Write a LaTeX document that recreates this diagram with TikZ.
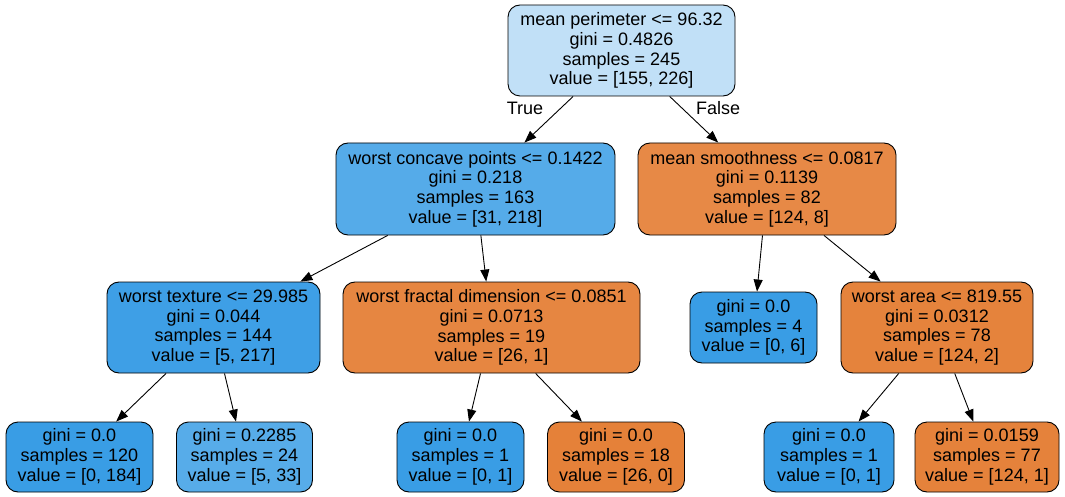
\documentclass[tikz,border=0pt]{standalone}
\usepackage{fontspec}
\setmainfont{Liberation Sans}
\usetikzlibrary{arrows.meta}
\definecolor{cRoot}{RGB}{193,224,247}
\definecolor{cL}{RGB}{85,171,233}
\definecolor{cT}{RGB}{62,159,230}
\definecolor{cBlue}{RGB}{57,157,229}
\definecolor{cLb}{RGB}{87,172,233}
\definecolor{cR}{RGB}{231,137,70}
\definecolor{cF}{RGB}{230,134,65}
\definecolor{cOr}{RGB}{229,129,57}
\definecolor{cA}{RGB}{229,131,60}
\definecolor{cA2}{RGB}{229,130,59}
\begin{document}
\begin{tikzpicture}[x=1pt,y=-1pt,
  box/.style={draw=black, line width=0.9pt, rounded corners=12pt, align=center, inner sep=0pt, font=\fontsize{18}{19.7}\selectfont},
  edge/.style={-{Triangle[length=12pt,width=9pt]}, line width=0.9pt},
  lbl/.style={font=\fontsize{18}{19.7}\selectfont, inner sep=0pt}]
\useasboundingbox (0,0) rectangle (1065,497);
\node[box, fill=cRoot, minimum width=227pt, minimum height=91pt] (root) at (621.5,50.5) {mean perimeter <= 96.32\\gini = 0.4826\\samples = 245\\value = [155, 226]};
\node[box, fill=cL, minimum width=279pt, minimum height=92pt] (L) at (475.5,189) {worst concave points <= 0.1422\\gini = 0.218\\samples = 163\\value = [31, 218]};
\node[box, fill=cR, minimum width=258pt, minimum height=92pt] (R) at (767,189) {mean smoothness <= 0.0817\\gini = 0.1139\\samples = 82\\value = [124, 8]};
\node[box, fill=cT, minimum width=213pt, minimum height=91pt] (T) at (213.5,327.5) {worst texture <= 29.985\\gini = 0.044\\samples = 144\\value = [5, 217]};
\node[box, fill=cF, minimum width=297pt, minimum height=91pt] (F) at (491.5,327.5) {worst fractal dimension <= 0.0851\\gini = 0.0713\\samples = 19\\value = [26, 1]};
\node[box, fill=cBlue, minimum width=127pt, minimum height=71pt] (P) at (753.5,327.5) {gini = 0.0\\samples = 4\\value = [0, 6]};
\node[box, fill=cA, minimum width=192pt, minimum height=91pt] (A) at (937,327.5) {worst area <= 819.55\\gini = 0.0312\\samples = 78\\value = [124, 2]};
\node[box, fill=cBlue, minimum width=147pt, minimum height=70pt] (l0) at (79.5,457) {gini = 0.0\\samples = 120\\value = [0, 184]};
\node[box, fill=cLb, minimum width=136pt, minimum height=70pt] (l1) at (244.5,457) {gini = 0.2285\\samples = 24\\value = [5, 33]};
\node[box, fill=cBlue, minimum width=127pt, minimum height=70pt] (l2) at (460.5,457) {gini = 0.0\\samples = 1\\value = [0, 1]};
\node[box, fill=cOr, minimum width=137pt, minimum height=70pt] (l3) at (616,457) {gini = 0.0\\samples = 18\\value = [26, 0]};
\node[box, fill=cBlue, minimum width=130pt, minimum height=70pt] (l4) at (829,457) {gini = 0.0\\samples = 1\\value = [0, 1]};
\node[box, fill=cA2, minimum width=144pt, minimum height=70pt] (l5) at (987,457) {gini = 0.0159\\samples = 77\\value = [124, 1]};
\draw[edge] (root) -- (L);
\draw[edge] (root) -- (R);
\draw[edge] (L) -- (T);
\draw[edge] (L) -- (F);
\draw[edge] (R) -- (P);
\draw[edge] (R) -- (A);
\draw[edge] (T) -- (l0);
\draw[edge] (T) -- (l1);
\draw[edge] (F) -- (l2);
\draw[edge] (F) -- (l3);
\draw[edge] (A) -- (l4);
\draw[edge] (A) -- (l5);
\node[lbl] (tT) at (525,108) {True};
\node[lbl] (tF) at (718,108) {False};
\end{tikzpicture}
\end{document}
